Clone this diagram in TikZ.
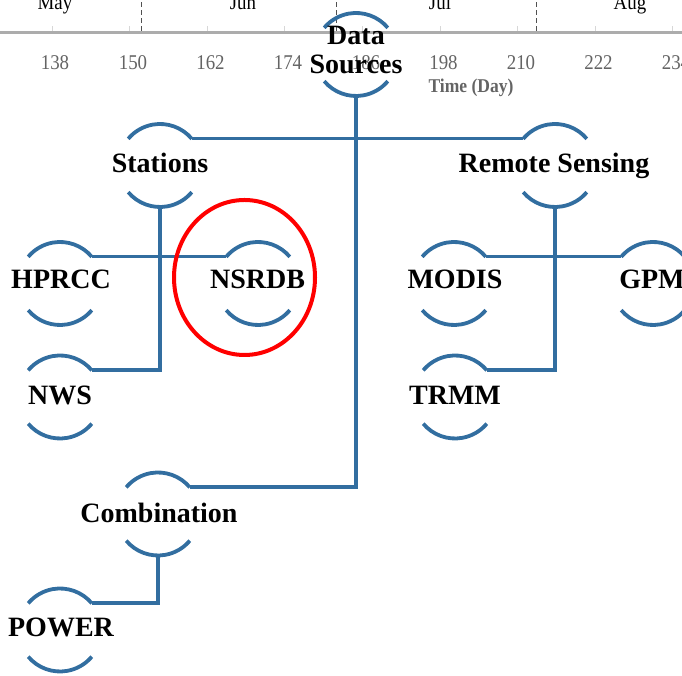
\documentclass[tikz,border=0pt]{standalone}
\usepackage{fontspec}
\setmainfont{Liberation Serif}
\usepackage{graphicx}
\definecolor{srcblue}{RGB}{50,110,160}
\definecolor{axisgray}{RGB}{172,172,172}
\definecolor{tickgray}{RGB}{215,215,215}
\definecolor{dashgray}{RGB}{80,80,80}
\definecolor{numgray}{RGB}{100,100,100}
\newcommand\srcarcs[1]{%
  \draw[arcline] ([shift={(40:41.5)}]#1.center) arc[start angle=40,end angle=140,radius=41.5];
  \draw[arcline] ([shift={(220:41.5)}]#1.center) arc[start angle=220,end angle=320,radius=41.5];}
\begin{document}
\begin{tikzpicture}[x=1pt,y=1pt,
  src/.style={circle, minimum size=83pt, inner sep=0pt, draw=none},
  lbl/.style={anchor=base, inner sep=0pt, font=\fontsize{28}{28}\selectfont\bfseries},
  arcline/.style={draw=srcblue, line width=3.8pt},
  conn/.style={draw=srcblue, line width=3.5pt},
  numlbl/.style={anchor=base, inner sep=0pt, text=numgray, font=\fontsize{21}{21}\selectfont},
  monlbl/.style={anchor=base, inner sep=0pt, text=black, font=\fontsize{21}{21}\selectfont},
  axlbl/.style={anchor=base, inner sep=0pt, text=numgray, font=\fontsize{19.5}{19.5}\selectfont\bfseries}]
\useasboundingbox (0,0) rectangle (682,676);
\clip (0,0) rectangle (682,676);
% ---- time axis
\draw[axisgray, line width=2.5pt] (0,643.7) -- (682,643.7);
\foreach \x in {52,129.6,207.2,284.8,362.4,440,517.6,595.2,672.8}
  \draw[tickgray, line width=1pt] (\x,645) -- (\x,649.5);
\foreach \x in {141.7,336.5,536}
  \draw[dashgray, line width=1pt, dash pattern=on 5pt off 3pt] (\x,645) -- (\x,676);
\foreach \x/\n in {55/138,133/150,210.5/162,288/174,366/186,443.5/198,521/210,598.5/222,676/234}
  \node[numlbl] (n\n) at (\x,606) {\scalebox{0.9}[1]{\n}};
\foreach \x/\m in {55/May,243/Jun,440/Jul,630/Aug}
  \node[monlbl] (m\m) at (\x,666) {\scalebox{0.9}[1]{\m}};
\node[axlbl] (tday) at (471,583) {\scalebox{0.9}[1]{Time (Day)}};
% ---- nodes
\node[src] (ds) at (356,621.5) {};
\node[src] (st) at (160,510.5) {};
\node[src] (rs) at (555,510.5) {};
\node[src] (hp) at (60,392.5) {};
\node[src] (ns) at (258,392.5) {};
\node[src] (nw) at (60,279) {};
\node[src] (mo) at (454,392.5) {};
\node[src] (gp) at (653,392.5) {};
\node[src] (tr) at (455,279) {};
\node[src] (co) at (158,162) {};
\node[src] (po) at (60,46) {};
\foreach \n in {ds,st,rs,hp,ns,nw,mo,gp,tr,co,po} {\srcarcs{\n}}
% ---- labels
\node[lbl] (dsa) at (356,631) {Data};
\node[lbl] (dsb) at (356,602.5) {Sources};
\node[lbl] (stt) at (160,503) {Stations};
\node[lbl] (rst) at (554,503) {Remote Sensing};
\node[lbl] (hpt) at (61,387) {HPRCC};
\node[lbl] (nst) at (257.5,387) {NSRDB};
\node[lbl] (nwt) at (60,271) {NWS};
\node[lbl] (mot) at (455,387) {MODIS};
\node[lbl] (gpt) at (652,387) {GPM};
\node[lbl] (trt) at (455,271) {TRMM};
\node[lbl] (cot) at (159,153) {Combination};
\node[lbl] (pot) at (61,39) {POWER};
% ---- connectors
\draw[conn] (ds.south) |- (co.40);
\draw[conn] (st.40) -- (rs.140);
\draw[conn] (st.south) |- (nw.40);
\draw[conn] (hp.40) -- (ns.140);
\draw[conn] (rs.south) |- (tr.40);
\draw[conn] (mo.40) -- (gp.140);
\draw[conn] (co.south) |- (po.40);
% ---- highlight
\draw[red, line width=4pt] (244.5,398.5) ellipse [x radius=70.5, y radius=77.5];
\end{tikzpicture}
\end{document}
